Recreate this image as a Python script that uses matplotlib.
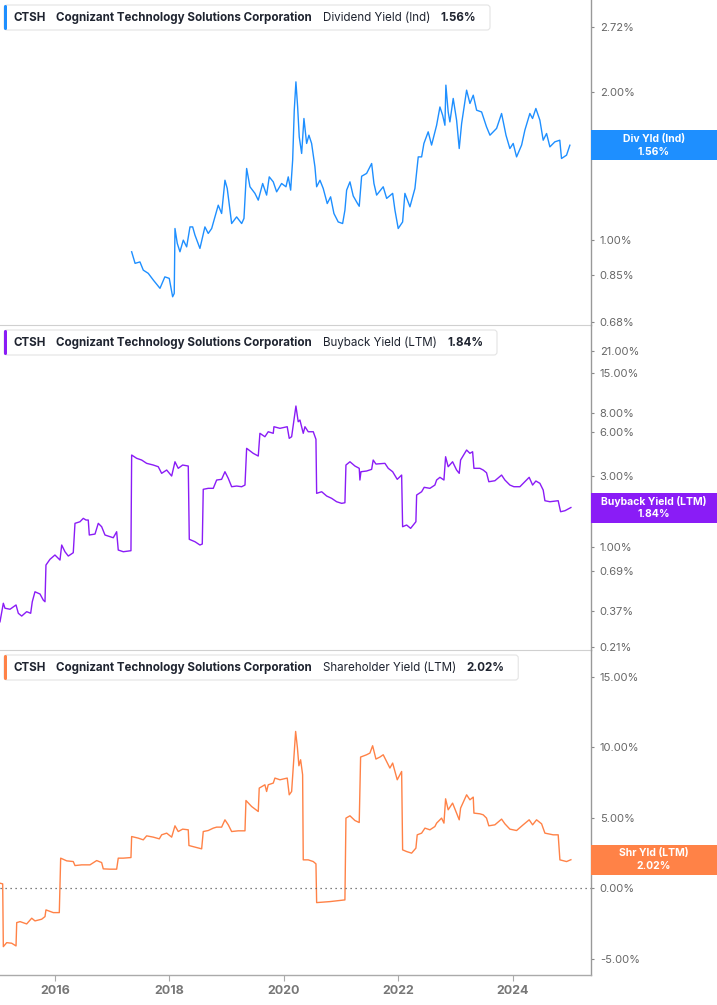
import numpy as np
import matplotlib.pyplot as plt
from matplotlib.patches import Rectangle, FancyBboxPatch
from matplotlib.transforms import IdentityTransform
from matplotlib.ticker import NullLocator

W, H = 717, 1005
plt.rcParams['font.family'] = ['Inter', 'DejaVu Sans']

# --- data (decimal years, percent) ---
div_dates = [2017.34, 2017.40, 2017.485, 2017.543, 2017.63, 2017.72, 2017.835, 2017.92, 2017.997, 2018.056,
             2018.084, 2018.097, 2018.137, 2018.184, 2018.242, 2018.301, 2018.359, 2018.406, 2018.446, 2018.533,
             2018.62, 2018.678, 2018.738, 2018.795, 2018.853, 2018.912, 2018.97, 2019.01, 2019.087, 2019.174,
             2019.262, 2019.302, 2019.349, 2019.407, 2019.494, 2019.552, 2019.629, 2019.698, 2019.744, 2019.814,
             2019.873, 2019.96, 2020.036, 2020.076, 2020.118, 2020.153, 2020.181, 2020.21, 2020.24, 2020.268,
             2020.31, 2020.35, 2020.397, 2020.437, 2020.484, 2020.542, 2020.572, 2020.63, 2020.687, 2020.757,
             2020.816, 2020.874, 2020.949, 2021.026, 2021.066, 2021.096, 2021.154, 2021.211, 2021.281, 2021.316,
             2021.358, 2021.445, 2021.533, 2021.573, 2021.62, 2021.735, 2021.795, 2021.90, 2021.94, 2021.997,
             2022.074, 2022.114, 2022.202, 2022.289, 2022.347, 2022.406, 2022.446, 2022.521, 2022.58, 2022.668,
             2022.726, 2022.773, 2022.813, 2022.83, 2022.87, 2022.90, 2022.958, 2023.017, 2023.063, 2023.105,
             2023.192, 2023.25, 2023.308, 2023.367, 2023.454, 2023.54, 2023.60, 2023.716, 2023.803, 2023.88,
             2023.948, 2024.006, 2024.065, 2024.153, 2024.21, 2024.297, 2024.344, 2024.402, 2024.472, 2024.53,
             2024.589, 2024.647, 2024.734, 2024.82, 2024.85, 2024.938, 2024.996]
div_vals = [0.947, 0.897, 0.903, 0.869, 0.856, 0.829, 0.798, 0.842, 0.836, 0.767,
            0.779, 1.056, 0.985, 0.947, 1.00, 0.969, 1.064, 1.064, 1.024, 0.962,
            1.064, 1.032, 1.056, 1.115, 1.178, 1.133, 1.324, 1.274, 1.081, 1.115,
            1.081, 1.107, 1.399, 1.284, 1.245, 1.206, 1.304, 1.235, 1.345, 1.314,
            1.254, 1.304, 1.284, 1.345, 1.264, 1.455, 1.838, 2.099, 1.866, 1.622,
            1.501, 1.768, 1.573, 1.635, 1.573, 1.410, 1.284, 1.324, 1.274, 1.187,
            1.225, 1.133, 1.089, 1.081, 1.151, 1.264, 1.314, 1.23, 1.19, 1.172,
            1.349, 1.367, 1.432, 1.304, 1.235, 1.284, 1.216, 1.245, 1.151, 1.056,
            1.089, 1.245, 1.169, 1.274, 1.477, 1.477, 1.573, 1.661, 1.561, 1.713,
            1.866, 1.796, 1.713, 2.067, 1.823, 1.740, 1.942, 1.754, 1.536, 1.727,
            2.019, 1.897, 1.972, 1.838, 1.823, 1.700, 1.635, 1.688, 1.810, 1.635,
            1.536, 1.573, 1.477, 1.561, 1.674, 1.810, 1.768, 1.853, 1.754, 1.597,
            1.648, 1.548, 1.585, 1.597, 1.466, 1.489, 1.56]

bb_dates = [2015.04, 2015.098, 2015.127, 2015.215, 2015.32, 2015.36, 2015.419, 2015.506, 2015.576, 2015.604,
            2015.651, 2015.739, 2015.796, 2015.826, 2015.843, 2015.913, 2016.0, 2016.058, 2016.088, 2016.118,
            2016.175, 2016.233, 2016.32, 2016.35, 2016.437, 2016.495, 2016.542, 2016.582, 2016.60, 2016.70,
            2016.757, 2016.816, 2016.874, 2017.019, 2017.078, 2017.106, 2017.194, 2017.328, 2017.34, 2017.428,
            2017.515, 2017.602, 2017.718, 2017.805, 2017.864, 2017.952, 2018.039, 2018.097, 2018.154, 2018.231,
            2018.329, 2018.347, 2018.446, 2018.533, 2018.574, 2018.591, 2018.678, 2018.766, 2018.825, 2018.912,
            2018.97, 2019.028, 2019.087, 2019.174, 2019.262, 2019.32, 2019.349, 2019.464, 2019.552, 2019.581,
            2019.668, 2019.726, 2019.814, 2019.826, 2019.931, 2020.058, 2020.093, 2020.135, 2020.175, 2020.21,
            2020.25, 2020.28, 2020.338, 2020.368, 2020.425, 2020.513, 2020.56, 2020.572, 2020.66, 2020.747,
            2020.834, 2020.921, 2021.009, 2021.066, 2021.084, 2021.154, 2021.241, 2021.316, 2021.328, 2021.346,
            2021.445, 2021.533, 2021.56, 2021.608, 2021.765, 2021.823, 2021.90, 2021.98, 2022.057, 2022.074,
            2022.144, 2022.214, 2022.306, 2022.319, 2022.406, 2022.451, 2022.551, 2022.638, 2022.668, 2022.726,
            2022.796, 2022.825, 2022.87, 2022.947, 2023.017, 2023.063, 2023.087, 2023.192, 2023.25, 2023.297,
            2023.32, 2023.424, 2023.482, 2023.54, 2023.58, 2023.686, 2023.803, 2023.861, 2023.948, 2024.018,
            2024.123, 2024.21, 2024.285, 2024.345, 2024.402, 2024.472, 2024.53, 2024.56, 2024.647, 2024.792,
            2024.834, 2024.91, 2025.014]
bb_vals = [0.311, 0.415, 0.384, 0.378, 0.404, 0.355, 0.340, 0.364, 0.355, 0.425,
           0.496, 0.479, 0.436, 0.425, 0.752, 0.822, 0.879, 0.835, 0.813, 1.027,
           0.925, 0.865, 0.911, 1.439, 1.475, 1.555, 1.515, 1.515, 1.20, 1.218,
           1.439, 1.365, 1.20, 1.150, 1.263, 0.950, 0.925, 0.940, 4.165, 3.957,
           3.853, 3.660, 3.565, 3.472, 3.133, 3.298, 3.004, 3.751, 3.387, 3.565,
           3.51, 1.122, 1.081, 1.027, 1.043, 2.443, 2.481, 2.481, 2.823, 2.854,
           3.212, 2.899, 2.544, 2.571, 2.544, 2.611, 4.623, 4.277, 4.101, 5.84,
           5.537, 5.984, 5.84, 6.47, 6.31, 6.47, 5.40, 5.537, 7.18, 8.93,
           6.99, 7.18, 5.84, 6.47, 5.984, 5.984, 5.318, 2.295, 2.353, 2.201,
           2.123, 2.014, 1.964, 1.983, 3.565, 3.751, 3.51, 3.387, 2.823, 3.212,
           3.248, 3.334, 3.853, 3.62, 3.66, 3.387, 3.212, 2.854, 3.05, 1.365,
           1.402, 1.331, 1.475, 2.235, 2.353, 2.52, 2.481, 2.611, 2.823, 2.944,
           2.823, 4.056, 3.472, 3.751, 3.298, 3.133, 3.853, 4.502, 4.277, 4.384,
           3.387, 3.387, 3.298, 3.162, 2.749, 2.792, 3.05, 2.823, 2.611, 2.544,
           2.544, 2.749, 2.944, 2.611, 2.78, 2.682, 2.416, 2.046, 2.014, 2.046,
           1.724, 1.751, 1.84]

shr_dates = [2015.04, 2015.087, 2015.098, 2015.157, 2015.244, 2015.32, 2015.332, 2015.39, 2015.506, 2015.594,
             2015.651, 2015.768, 2015.826, 2015.843, 2015.971, 2016.076, 2016.10, 2016.205, 2016.32, 2016.35,
             2016.467, 2016.612, 2016.729, 2016.816, 2016.844, 2016.961, 2017.078, 2017.106, 2017.194, 2017.328,
             2017.34, 2017.456, 2017.543, 2017.602, 2017.718, 2017.823, 2017.864, 2017.952, 2018.039, 2018.097,
             2018.154, 2018.231, 2018.329, 2018.341, 2018.446, 2018.563, 2018.591, 2018.678, 2018.766, 2018.825,
             2018.912, 2018.97, 2019.028, 2019.087, 2019.203, 2019.32, 2019.337, 2019.436, 2019.552, 2019.569,
             2019.668, 2019.698, 2019.726, 2019.814, 2019.843, 2019.931, 2020.058, 2020.093, 2020.135, 2020.163,
             2020.205, 2020.236, 2020.262, 2020.292, 2020.327, 2020.338, 2020.425, 2020.513, 2020.56, 2020.572,
             2020.804, 2021.066, 2021.084, 2021.154, 2021.241, 2021.316, 2021.34, 2021.445, 2021.503, 2021.55,
             2021.608, 2021.677, 2021.735, 2021.795, 2021.852, 2021.90, 2021.98, 2022.057, 2022.074, 2022.144,
             2022.231, 2022.306, 2022.329, 2022.406, 2022.464, 2022.551, 2022.638, 2022.668, 2022.755, 2022.796,
             2022.825, 2022.87, 2022.947, 2023.017, 2023.063, 2023.087, 2023.192, 2023.25, 2023.308, 2023.32,
             2023.424, 2023.482, 2023.54, 2023.58, 2023.686, 2023.803, 2023.861, 2023.948, 2024.065, 2024.18,
             2024.285, 2024.345, 2024.414, 2024.502, 2024.56, 2024.705, 2024.792, 2024.822, 2024.938, 2025.014]
shr_vals = [0.355, 0.305, -4.148, -3.864, -3.906, -4.098, -2.443, -2.372, -2.536, -2.131,
            -2.322, -2.202, -2.017, -1.541, -1.733, -1.733, 2.131, 1.939, 1.889, 1.605,
            1.655, 1.655, 1.960, 1.818, 1.371, 1.349, 1.349, 2.131, 2.131, 2.173,
            3.665, 3.551, 3.430, 3.714, 3.622, 3.501, 3.786, 3.906, 3.622, 4.425,
            4.020, 4.190, 4.141, 3.026, 2.912, 2.791, 4.020, 4.091, 4.261, 4.332,
            4.332, 4.851, 4.496, 4.020, 4.070, 4.070, 6.222, 5.795, 5.440, 7.102,
            7.337, 6.861, 7.337, 7.457, 7.813, 7.692, 7.813, 6.626, 6.861, 8.523,
            11.122, 9.964, 8.686, 9.112, 8.047, 2.010, 2.010, 1.889, 1.726, -1.023,
            -0.952, -0.831, 4.972, 5.135, 4.801, 4.659, 9.304, 9.467, 9.588, 10.107,
            9.162, 9.304, 9.467, 8.991, 8.523, 8.878, 7.692, 8.281, 2.720, 2.599,
            2.486, 2.841, 3.786, 3.906, 4.261, 4.141, 4.375, 4.616, 4.972, 4.616,
            6.342, 5.561, 6.037, 5.327, 4.851, 5.682, 6.626, 6.271, 6.463, 5.327,
            5.277, 5.206, 4.972, 4.425, 4.496, 4.901, 4.567, 4.190, 4.091, 4.496,
            4.851, 4.496, 4.851, 4.567, 3.906, 3.786, 3.786, 2.010, 1.889, 2.02]

div_ticks = [0.68, 0.85, 1.00, 2.00, 2.72]
bb_ticks = [0.21, 0.37, 0.69, 1.00, 3.00, 6.00, 8.00, 15.00, 21.00]
shr_ticks = [-5.0, 0.0, 5.0, 10.0, 15.0]
year_ticks = [2016, 2018, 2020, 2022, 2024]

panels = [
    dict(x=div_dates, y=div_vals, color='#1E8FFF', scale='log', ylim=(0.672, 3.08), ticks=div_ticks,
         metric='Dividend Yield (Ind)', tag='Div Yld (Ind)', last='1.56%'),
    dict(x=bb_dates, y=bb_vals, color='#8A1CF6', scale='log', ylim=(0.2005, 31.5), ticks=bb_ticks,
         metric='Buyback Yield (LTM)', tag='Buyback Yield (LTM)', last='1.84%'),
    dict(x=shr_dates, y=shr_vals, color='#FF8247', scale='linear', ylim=(-6.16, 16.9), ticks=shr_ticks,
         metric='Shareholder Yield (LTM)', tag='Shr Yld (LTM)', last='2.02%'),
]

fig = plt.figure(figsize=(W / 100, H / 100), dpi=100)
renderer = fig.canvas.get_renderer()
ident = IdentityTransform()

AX_R = 590.7
PH = 325
XLIM = (2015.04, 2025.36)

for i, p in enumerate(panels):
    top = i * PH
    ax = fig.add_axes([0, 1 - (top + PH) / H, AX_R / W, PH / H])
    ax.plot(p['x'], p['y'], color=p['color'], lw=1.0)
    ax.set_xlim(*XLIM)
    ax.set_yscale(p['scale'])
    ax.set_ylim(*p['ylim'])
    ax.yaxis.tick_right()
    ax.set_yticks(p['ticks'])
    ax.set_yticklabels([f'{t:.2f}%' for t in p['ticks']])
    ax.yaxis.set_minor_locator(NullLocator())
    ax.tick_params(axis='y', length=2.5, width=0.8, color='#888888', labelsize=8,
                   labelcolor='#666666', pad=4)
    for s in ['top', 'left']:
        ax.spines[s].set_visible(False)
    ax.spines['right'].set_color('#999999')
    ax.spines['right'].set_linewidth(1.0)
    ax.patch.set_alpha(0)

    if i < 2:
        ax.set_xticks([])
        ax.spines['bottom'].set_color('#d0d0d0')
        ax.spines['bottom'].set_linewidth(0.8)
    else:
        ax.spines['bottom'].set_color('#aaaaaa')
        ax.spines['bottom'].set_linewidth(1.0)
        ax.set_xticks(year_ticks)
        ax.set_xticklabels([str(y) for y in year_ticks], fontweight='bold')
        ax.tick_params(axis='x', length=4, width=0.8, color='#aaaaaa', labelsize=9,
                       labelcolor='#777777', pad=3)
        ax.axhline(0, color='#555555', lw=0.9, ls=(0, (1, 3)))

    # value tag on the right axis
    yd = ax.transData.transform((2020, p['y'][-1]))[1]
    fig.add_artist(Rectangle((AX_R, yd - 15), W - AX_R, 30, transform=ident,
                             facecolor=p['color'], edgecolor='none'))
    cx = (AX_R + W) / 2
    fig.text(cx, yd + 6.5, p['tag'], transform=ident, ha='center', va='center',
             color='white', fontsize=7.5, fontweight='bold')
    fig.text(cx, yd - 6.5, p['last'], transform=ident, ha='center', va='center',
             color='white', fontsize=7.5, fontweight='bold')

    # header legend box
    ty = H - (top + 17.5)
    x = 13
    pieces = [('CTSH', 'bold', 11), ('Cognizant Technology Solutions Corporation', 'bold', 11),
              (p['metric'], 'normal', 10), (p['last'], 'bold', 0)]
    for txt, wt, gap in pieces:
        t = fig.text(x, ty, txt, transform=ident, ha='left', va='center',
                     color='#1f2430', fontsize=8.35, fontweight=wt, zorder=5)
        bb = t.get_window_extent(renderer)
        x += bb.width + gap
    box_r = x + 14
    fig.add_artist(FancyBboxPatch((4, H - (top + 30)), box_r - 4, 25,
                                  boxstyle='round,pad=0,rounding_size=3', transform=ident,
                                  facecolor='white', edgecolor='#e4e4e4', lw=0.8, zorder=4))
    fig.add_artist(FancyBboxPatch((4, H - (top + 30)), 3, 25,
                                  boxstyle='round,pad=0,rounding_size=1.5', transform=ident,
                                  facecolor=p['color'], edgecolor='none', zorder=4.5))

fig.savefig('out.png', dpi=100)
